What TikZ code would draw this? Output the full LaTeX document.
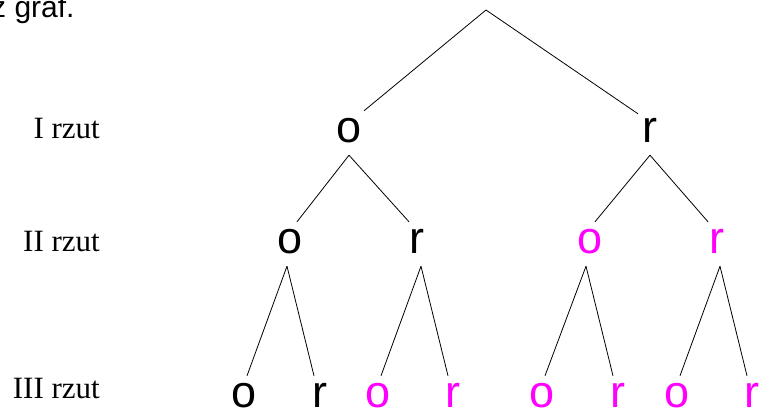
\documentclass[tikz,border=0pt]{standalone}
\usepackage{fontspec}
\setmainfont{Liberation Serif}
\newfontfamily\lettfont{Liberation Sans}
\definecolor{mag}{HTML}{FF00FF}
\tikzset{
  lt/.style={font=\lettfont\fontsize{45}{45}\selectfont, text height=31pt, text depth=13pt, inner sep=0pt, anchor=base},
  ltm/.style={lt, text=mag},
  leaf/.style={text depth=0pt},
  lab/.style={font=\fontsize{31}{31}\selectfont, inner sep=0pt, anchor=base east},
  edge/.style={draw=black, line width=0.8pt}
}
\begin{document}
\begin{tikzpicture}[x=1pt,y=-1pt]
\useasboundingbox (0,0) rectangle (760,410);
\clip (0,0) rectangle (760,410);
\fill[white] (0,0) rectangle (760,410);
% header text (cut off in the reference)
\node[font=\lettfont\fontsize{30}{30}\selectfont, inner sep=0pt, anchor=base west] (hdr) at (-9,17) {z graf.};
% level labels
\node[lab] (l1) at (100,138) {I rzut};
\node[lab] (l2) at (100,251) {II rzut};
\node[lab] (l3) at (100,398) {III rzut};
% tree
\coordinate (root) at (486,10);
\node[lt] (a) at (349,142) {o};
\node[lt] (b) at (650,142) {r};
\node[lt] (aa) at (290,253) {o};
\node[lt] (ab) at (417,253) {r};
\node[ltm] (ba) at (590,253) {o};
\node[ltm] (bb) at (717,253) {r};
\node[lt,leaf] (aaa) at (244,407) {o};
\node[lt,leaf] (aab) at (320,407) {r};
\node[ltm,leaf] (aba) at (378,407) {o};
\node[ltm,leaf] (abb) at (453,407) {r};
\node[ltm,leaf] (baa) at (542,407) {o};
\node[ltm,leaf] (bab) at (618,407) {r};
\node[ltm,leaf] (bba) at (677,407) {o};
\node[ltm,leaf] (bbb) at (752,407) {r};
% connectors
\draw[edge] (root) -- ([xshift=15pt]a.north);
\draw[edge] (root) -- ([xshift=-12pt,yshift=-3pt]b.north);
\draw[edge] (a.south) -- ([xshift=7pt]aa.north);
\draw[edge] (a.south) -- ([xshift=-8pt]ab.north);
\draw[edge] (b.south) -- ([xshift=5pt]ba.north);
\draw[edge] (b.south) -- ([xshift=-9pt]bb.north);
\draw[edge] ([xshift=-3pt]aa.south) -- ([xshift=3pt]aaa.north);
\draw[edge] ([xshift=-3pt]aa.south) -- ([xshift=-6pt]aab.north);
\draw[edge] ([xshift=4pt]ab.south) -- ([xshift=3pt]aba.north);
\draw[edge] ([xshift=4pt]ab.south) -- ([xshift=-5pt]abb.north);
\draw[edge] ([xshift=-4pt]ba.south) -- ([xshift=3pt]baa.north);
\draw[edge] ([xshift=-4pt]ba.south) -- ([xshift=-5pt]bab.north);
\draw[edge] ([xshift=3pt]bb.south) -- ([xshift=3pt]bba.north);
\draw[edge] ([xshift=3pt]bb.south) -- ([xshift=-5pt]bbb.north);
\end{tikzpicture}
\end{document}
